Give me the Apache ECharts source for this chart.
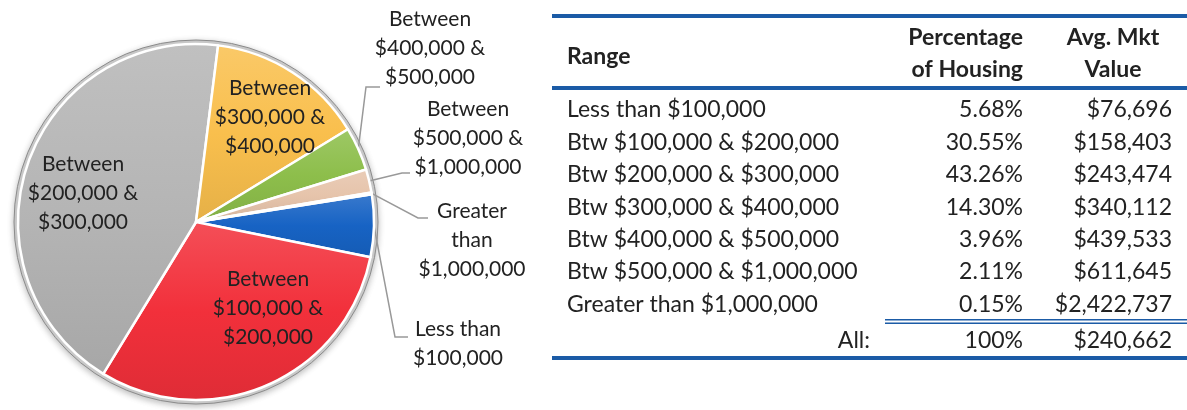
<!DOCTYPE html>
<html>
<head>
<meta charset="utf-8">
<script src="https://cdn.jsdelivr.net/npm/echarts@6/dist/echarts.min.js"></script>
<style>
  html, body { margin: 0; padding: 0; background: #fff; }
  #main { width: 1187px; height: 410px; }
</style>
</head>
<body>
<div id="main"></div>
<script>
// data
const ranges = [
    'Less than $100,000',
    'Btw $100,000 & $200,000',
    'Btw $200,000 & $300,000',
    'Btw $300,000 & $400,000',
    'Btw $400,000 & $500,000',
    'Btw $500,000 & $1,000,000',
    'Greater than $1,000,000'
];
const pieLabels = [
    'Less than\n$100,000',
    'Between\n$100,000 &\n$200,000',
    'Between\n$200,000 &\n$300,000',
    'Between\n$300,000 &\n$400,000',
    'Between\n$400,000 &\n$500,000',
    'Between\n$500,000 &\n$1,000,000',
    'Greater\nthan\n$1,000,000'
];
const pctHousing = [5.68, 30.55, 43.26, 14.30, 3.96, 2.11, 0.15];
const avgValue = [76696, 158403, 243474, 340112, 439533, 611645, 2422737];
const totalLabel = 'All:';
const totalPct = '100%';
const totalAvg = 240662;

// styles
const sliceColors = ['#1763c4', '#f2303b', '#b5b5b5', '#f9bf4d', '#8dbe4b', '#e6c4ab', '#7b5a9a'];
const FONT = 'Lato';
const BLUE = '#1b5ba6';
const center = [196, 222];
const R = 178;

// where each slice label sits (x, y = centre of the text block), plus leader elbow/end
const labelSpots = [
    { x: 458, y: 344, line: [[395, 337], [408, 337]] },
    { x: 268, y: 308 },
    { x: 83, y: 193 },
    { x: 270, y: 117 },
    { x: 430, y: 48, line: [[366, 87], [380, 87]] },
    { x: 468, y: 138, line: [[402, 173], [410, 173]] },
    { x: 472, y: 240, line: [[418, 218], [428, 218]] }
];
const insideIdx = [1, 2, 3];

function shade(hex, f) {
    let n = parseInt(hex.slice(1), 16);
    let r = (n >> 16) & 255, g = (n >> 8) & 255, b = n & 255;
    const t = f < 0 ? 0 : 255, p = Math.abs(f);
    r = Math.round((t - r) * p + r);
    g = Math.round((t - g) * p + g);
    b = Math.round((t - b) * p + b);
    return 'rgb(' + r + ',' + g + ',' + b + ')';
}

const pieData = pctHousing.map(function (v, i) {
    const inside = insideIdx.indexOf(i) >= 0;
    const c = sliceColors[i];
    return {
        value: v,
        name: pieLabels[i],
        itemStyle: {
            color: {
                type: 'linear', x: 0, y: 0, x2: 0, y2: 1,
                colorStops: [
                    { offset: 0, color: shade(c, 0.15) },
                    { offset: 0.5, color: c },
                    { offset: 1, color: shade(c, -0.08) }
                ]
            }
        },
        label: { position: inside ? 'inside' : 'outside' },
        labelLine: { show: !inside }
    };
});

const fmtMoney = function (v) { return '$' + v.toLocaleString('en-US'); };

// table built from the arrays
const tableX = 552, tableW = 635;
const colRange = 567, colPct = 1023, colAvg = 1172, colAvgHead = 1113;
const rowY0 = 110, rowStep = 32.4;
const bodyFont = '23px ' + FONT;
const headFont = 'bold 23px ' + FONT;

const graphics = [];
function addText(txt, x, y, align, font) {
    graphics.push({
        type: 'text', x: x, y: y,
        style: { text: txt, font: font || bodyFont, fill: '#222', align: align, verticalAlign: 'middle' }
    });
}
function addRule(x, y, w, h, color) {
    graphics.push({ type: 'rect', shape: { x: x, y: y, width: w, height: h }, style: { fill: color } });
}

addRule(tableX, 14, tableW, 4, BLUE);
addRule(tableX, 86, tableW, 4, BLUE);
addRule(tableX, 356, tableW, 4, BLUE);
addRule(885, 319, tableX + tableW - 885, 1.5, BLUE);
addRule(885, 322.5, tableX + tableW - 885, 1.5, BLUE);

addText('Range', colRange, 57, 'left', headFont);
addText('Percentage', colPct, 38, 'right', headFont);
addText('of Housing', colPct, 70, 'right', headFont);
addText('Avg. Mkt', colAvgHead, 38, 'center', headFont);
addText('Value', colAvgHead, 70, 'center', headFont);

ranges.forEach(function (r, i) {
    const y = rowY0 + i * rowStep;
    addText(r, colRange, y, 'left');
    addText(pctHousing[i].toFixed(2) + '%', colPct, y, 'right');
    addText(fmtMoney(avgValue[i]), colAvg, y, 'right');
});
addText(totalLabel, 870, 341, 'right');
addText(totalPct, colPct, 341, 'right');
addText(fmtMoney(totalAvg), colAvg, 341, 'right');

const option = {
    backgroundColor: '#fff',
    animation: false,
    graphic: graphics,
    series: [
        {   // grey rim behind the slices
            type: 'pie',
            silent: true,
            center: center,
            radius: [0, R + 4],
            z: 1,
            label: { show: false },
            labelLine: { show: false },
            itemStyle: {
                color: '#cdcdcd',
                borderColor: '#8c8c8c',
                borderWidth: 1,
                shadowColor: 'rgba(0,0,0,0.25)',
                shadowBlur: 6,
                shadowOffsetY: 2
            },
            data: [{ value: 1 }]
        },
        {
            type: 'pie',
            center: center,
            radius: [0, R],
            startAngle: 9,
            clockwise: true,
            z: 2,
            itemStyle: { borderColor: '#fff', borderWidth: 2.5 },
            label: {
                show: true,
                formatter: '{b}',
                fontFamily: FONT,
                fontSize: 21,
                lineHeight: 29,
                color: '#222',
                align: 'center'
            },
            labelLine: {
                show: true,
                lineStyle: { color: '#999', width: 1.5 }
            },
            labelLayout: function (params) {
                const s = labelSpots[params.dataIndex];
                const out = { x: s.x, y: s.y, align: 'center', verticalAlign: 'middle' };
                if (s.line && params.labelLinePoints) {
                    out.labelLinePoints = [params.labelLinePoints[0], s.line[0], s.line[1]];
                }
                return out;
            },
            data: pieData
        }
    ]
};

const chart = echarts.init(document.getElementById('main'));
chart.setOption(option);
</script>
</body>
</html>
